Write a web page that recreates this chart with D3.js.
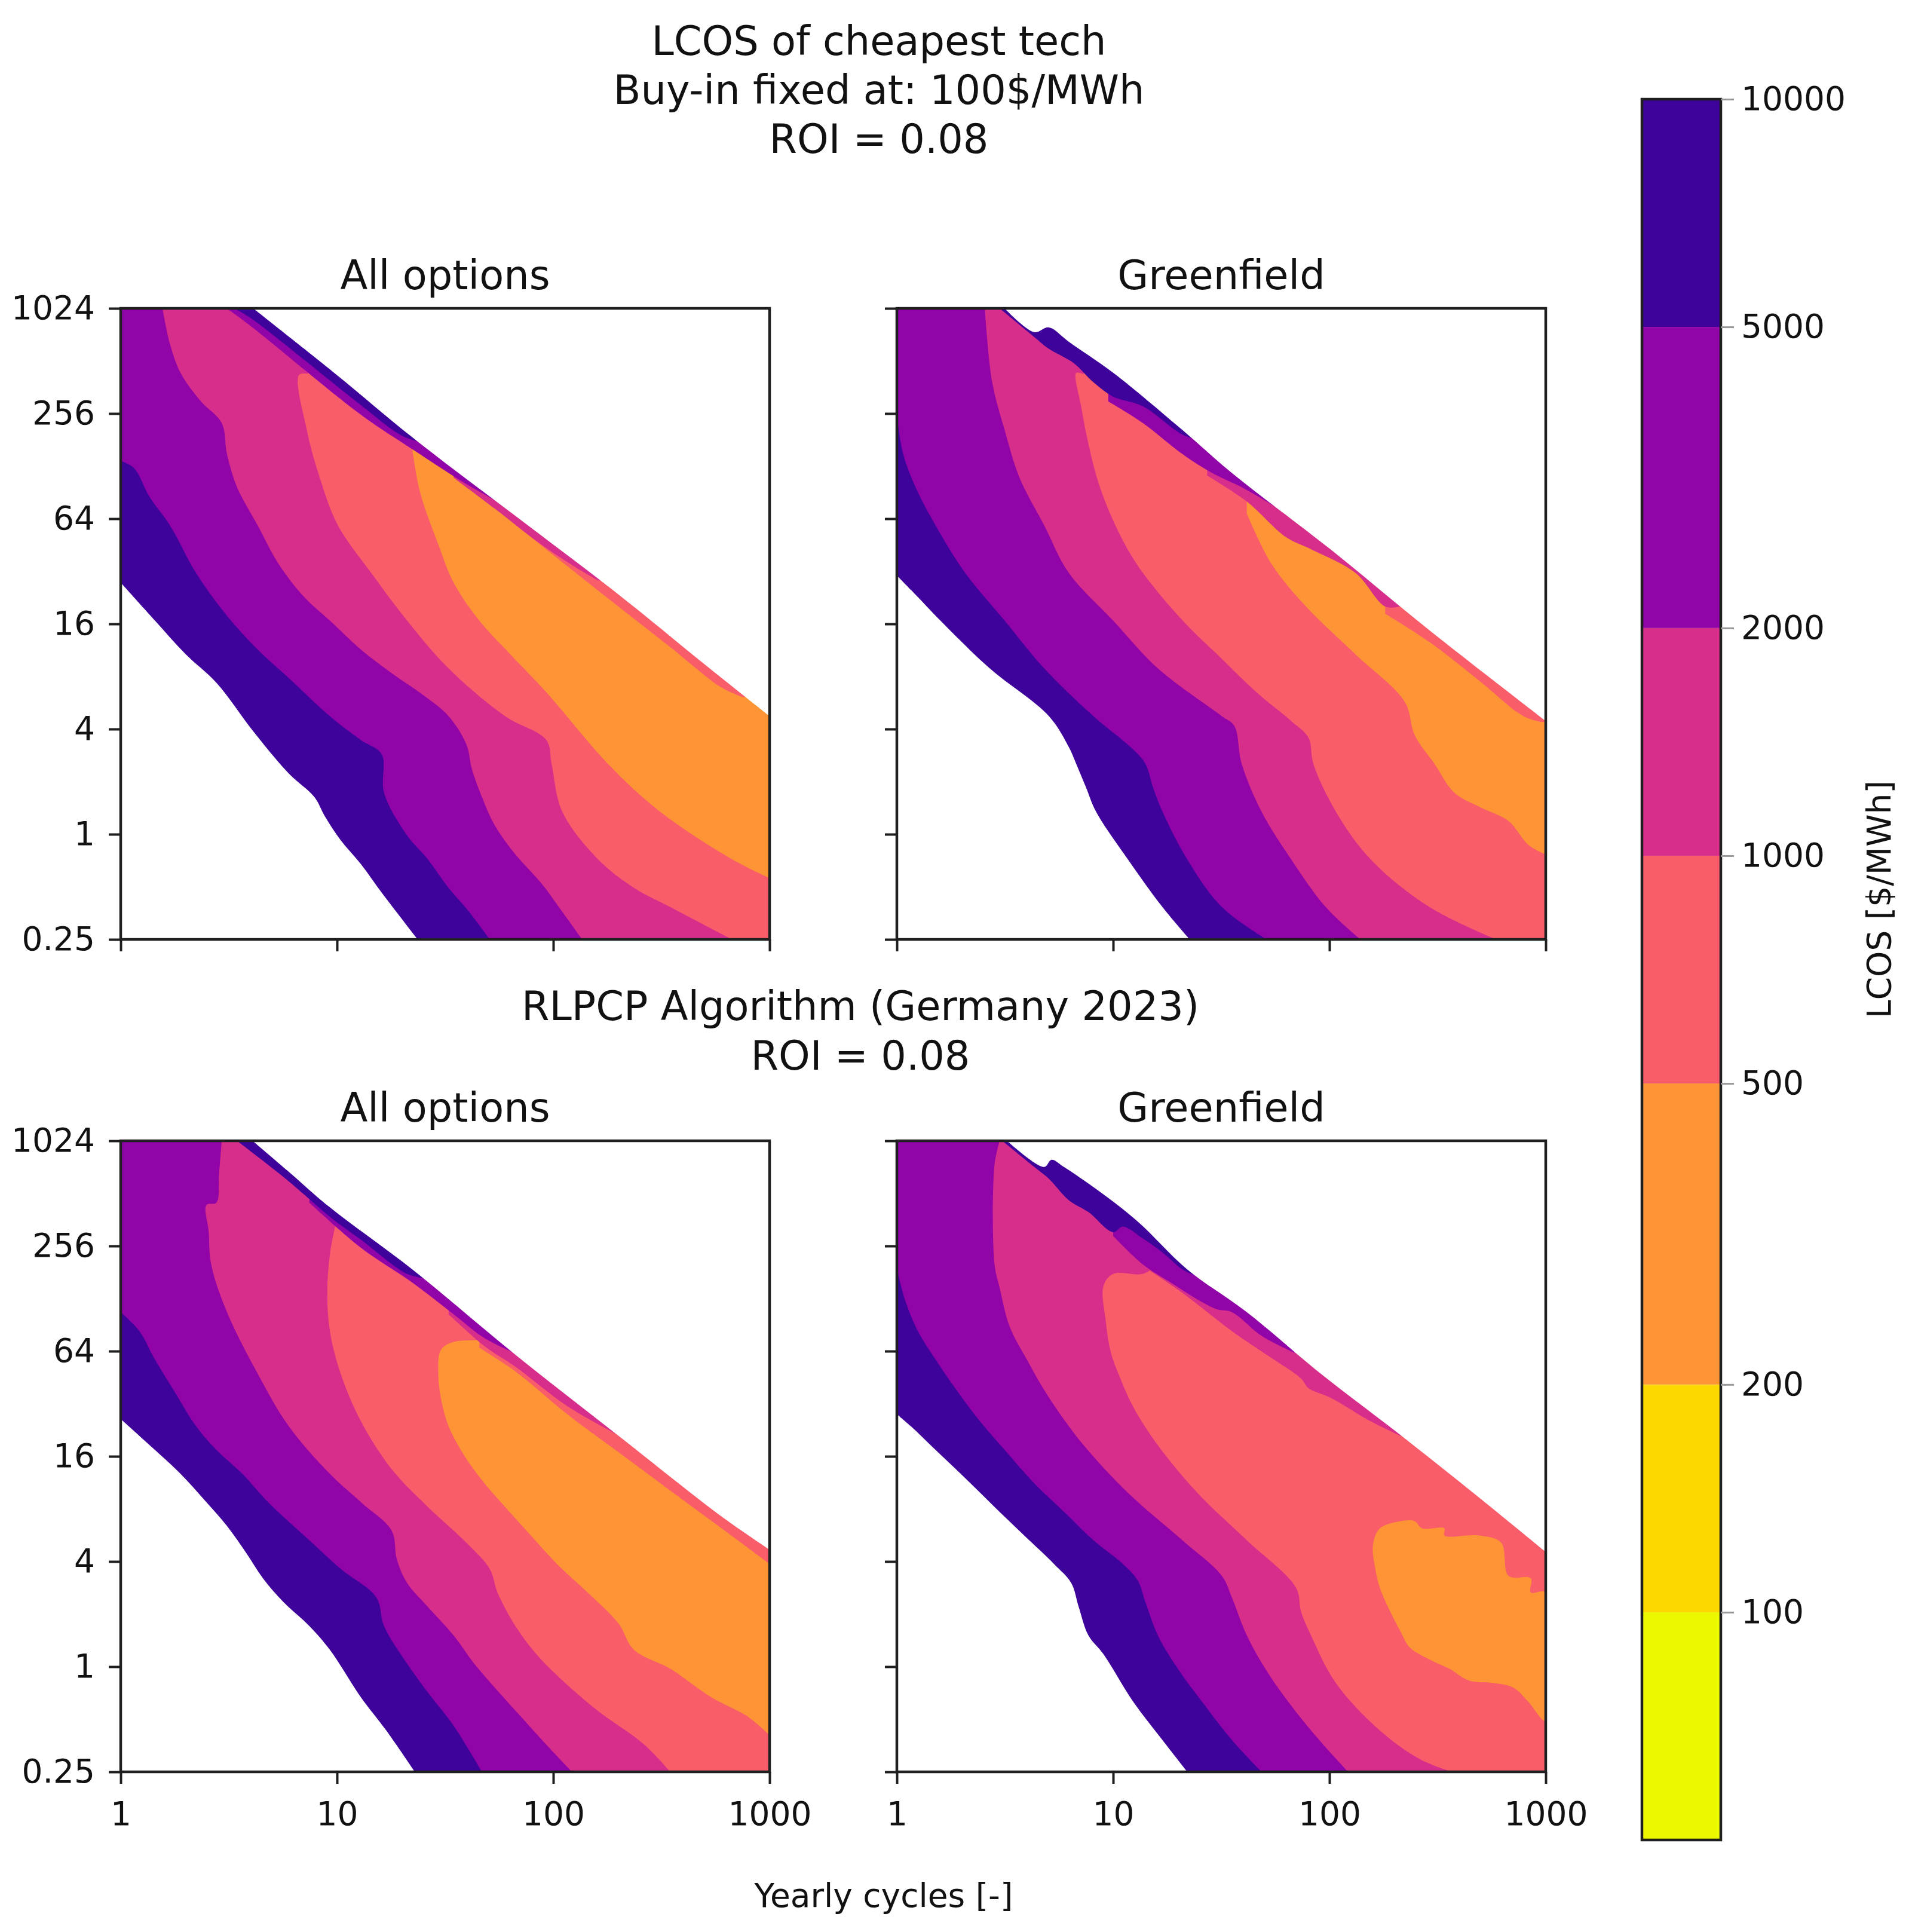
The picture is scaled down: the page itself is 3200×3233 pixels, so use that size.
<!DOCTYPE html>
<html>
<head>
<meta charset="utf-8">
<script src="https://cdn.jsdelivr.net/npm/d3@7"></script>
<style>
  body { margin: 0; background: #fff; }
  svg { display: block; }
  text { font-family: "DejaVu Sans", sans-serif; fill: #111; }
</style>
</head>
<body>
<svg id="chart" width="3200" height="3233"></svg>
<script>
// LCOS band edges [$/MWh] as on the colour bar
const levels = [50, 100, 200, 500, 1000, 2000, 5000, 10000];
const cbTicks = [100, 200, 500, 1000, 2000, 5000, 10000];
const xTicks = [1, 10, 100, 1000];
const yTicks = [0.25, 1, 4, 16, 64, 256, 1024];

// every point is [yearly cycles, duration h]
// edge = last feasible duration (white above), floor = where LCOS passes 10000 (white below)
// isoNNNN = the NNNN contour, rimNNNN = thin band that hugs the edge

// ---- top left: All options, buy-in fixed
const tlEdge = [[4.1,1024],[10,425],[22.3,187],[66.8,66.4],[200,23.6],[500,9.4],[1000,4.74]];
const tlFloor = [[1,27.6],[1.44,16.7],[2.0,10.7],[2.77,7.36],[4.07,3.93],[5.98,2.23],[7.87,1.63],[8.78,1.27],[10.4,0.925],[12.9,0.675],[16.1,0.463],[23.6,0.25]];
const tlIso5000 = [[1,137],[1.15,125],[1.36,85.4],[1.69,58.6],[2.23,31.3],[3.10,17.8],[4.30,11.4],[5.98,7.84],[9.27,4.74],[12.9,3.46],[16.1,2.87],[16.5,1.73],[21.1,0.984],[26.3,0.719],[32.8,0.493],[40.8,0.36],[50.8,0.25]];
const tlIso2000 = [[1.56,1024],[1.69,639],[1.89,438],[2.35,300],[2.93,226],[3.10,150],[3.45,97],[4.30,58.6],[5.36,35.4],[7.05,22.8],[9.27,16.7],[12.9,11.4],[17.9,8.35],[24.9,6.29],[32.8,4.74],[39.7,3.25],[42.0,2.37],[46.8,1.63],[53.7,1.12],[66.8,0.766],[87.9,0.525],[110,0.36],[136,0.25]];
const tlIso1000 = [[7.33,433],[6.67,425],[7.25,206],[8.32,110],[10.1,58.6],[14.4,31.3],[21.1,16.7],[32.8,8.89],[59.9,4.74],[92.9,3.46],[98.2,2.53],[110,1.35],[161,0.719],[236,0.493],[347,0.383],[670,0.25]];
const tlIso500 = [[22.3,160],[24.2,91],[29.4,45.6],[34.6,27.6],[45.5,16.7],[63.3,10.7],[92.9,6.49],[179,2.53],[311,1.35],[670,0.72],[1000,0.56]];
const tlRim500 = [[63.3,62.4],[116,34.3],[200,20.1],[347,11.8],[600,6.91],[748,6.10]];
const tlRim1000 = [[34.6,110],[53.7,73],[87.9,45.6],[129,33.3],[161,28.4]];
const tlRim2000 = [[3.10,1024],[4.07,796],[12.9,252],[22.3,160],[38.6,103],[53.7,81.3],[66.8,68.6]];
const tlRim5000 = [[3.36,1024],[4.07,886],[12.9,286],[20.0,191],[24.9,175]];

// ---- top right: Greenfield, buy-in fixed
const trEdge = [[3.15,1024],[4.32,748],[5.05,796],[6.24,659],[10.0,438],[20.9,206],[35.4,117],[101,42.8],[290,14.7],[1000,4.45]];
const trFloor = [[1,30.3],[1.25,22.8],[1.59,16.7],[2.69,8.89],[5.05,4.74],[6.24,3.15],[6.75,2.53],[7.50,1.85],[8.33,1.35],[11.7,0.719],[16.9,0.383],[22.6,0.25]];
const trIso5000 = [[1,249],[1.07,150],[1.22,97],[1.51,58.6],[2.07,31.3],[3.15,16.7],[4.80,8.89],[8.11,4.74],[12.4,3.05],[14.1,2.53],[15.3,1.85],[16.9,1.35],[22.0,0.719],[31.8,0.383],[51.2,0.25]];
const trIso2000 = [[2.55,1024],[2.76,386],[3.15,206],[3.69,110],[4.80,58.6],[6.24,31.3],[10.0,16.7],[16.1,8.89],[31.8,4.74],[36.3,4.18],[39.3,2.53],[48.5,1.35],[66.5,0.719],[96.1,0.383],[139,0.25]];
const trIso1000 = [[7.31,430],[6.75,438],[7.11,282],[7.69,171],[8.55,103],[10,62.4],[12.4,37.7],[16.1,24.3],[22.0,15.7],[31.8,10.1],[46.0,6.49],[66.5,4.45],[80.0,3.57],[84.3,2.53],[107,1.35],[155,0.719],[290,0.383],[590,0.25]];
const trIso500 = [[41.5,68.6],[53.9,35.4],[78.0,20.1],[132,10.7],[223,5.72],[248,3.69],[306,2.53],[378,1.73],[491,1.44],[673,1.19],[832,0.868],[1000,0.766]];
const trRim500 = [[181,18.3],[290,12.6],[491,7.59],[789,4.74],[948,4.40]];
const trRim1000 = [[27.2,113],[41.5,80.3],[63.1,50.1],[82.2,42.8],[132,31.3],[181,20.1],[212,20.1]];
const trRim2000 = [[9.5,300],[13.7,226],[20.9,150],[28.7,117],[39.3,97],[51.2,80.3],[63.1,68.6]];
const trRim5000 = [[2.99,1024],[4.32,702],[5.05,600],[6.58,497],[8.11,386],[10,320],[13.7,282],[20.9,194],[24.5,182]];

// ---- bottom left: All options, RLPCP
const blEdge = [[4.07,1024],[5.98,681],[9.27,426],[22.3,188],[66.8,61],[200,21],[600,7.24],[1000,4.67]];
const blFloor = [[1,26.2],[1.44,17.4],[1.89,12.7],[2.49,8.74],[3.10,6.39],[3.85,4.38],[4.55,3.20],[5.66,2.34],[7.45,1.71],[9.27,1.25],[12.9,0.668],[16.9,0.431],[22.9,0.25]];
const blIso5000 = [[1,107],[1.22,83.4],[1.44,57.3],[1.79,36.9],[2.23,23.8],[2.77,17.4],[3.65,12.7],[4.80,8.74],[7.45,5.29],[10.4,3.63],[15.2,2.49],[16.5,1.71],[21.1,1.04],[26.3,0.712],[34.6,0.459],[46.8,0.25]];
const blIso2000 = [[2.93,1024],[2.85,660],[2.77,453],[2.49,439],[2.55,311],[2.62,201],[3.10,107],[4.30,47.5],[5.98,23.8],[9.27,12.7],[12.9,8.74],[17.9,6.0],[18.9,4.12],[21.1,3.01],[26.3,2.20],[34.6,1.51],[43.1,1.04],[53.7,0.758],[70.6,0.520],[92.9,0.357],[122,0.25]];
const blIso1000 = [[9.8,331],[9.27,228],[9.02,138],[9.27,83.4],[10.4,47.5],[12.9,25.4],[17.9,13.5],[26.3,8.21],[38.6,5.29],[50.8,3.63],[55.2,2.66],[66.8,1.71],[87.9,1.10],[152,0.590],[264,0.357],[347,0.25]];
const blIso500 = [[50.8,73.6],[34.6,72.3],[30.2,64.9],[29.4,47.5],[30.2,34.7],[32.8,23.8],[38.6,16.3],[48.1,11.2],[59.9,8.21],[78.8,5.63],[104,3.87],[144,2.66],[200,1.77],[236,1.25],[347,0.974],[538,0.668],[789,0.520],[1000,0.405]];
const blRim500 = [[45.5,67],[66.8,49],[116,27.9],[200,16.9],[347,10.2],[600,6.19],[1000,3.87]];
const blRim1000 = [[32.8,104],[48.1,68.3],[66.8,52.1],[116,31],[211,20.4]];
const blRim2000 = [[7.45,453],[12.9,250],[22.3,158],[34.6,104],[48.1,75.9],[70.6,60.2]];
const blRim5000 = [[3.45,1024],[4.07,875],[5.98,601],[9.27,376],[12.9,278],[21.1,177],[26.3,166]];

// ---- bottom right: Greenfield, RLPCP
const brEdge = [[3.23,1024],[4.80,725],[5.19,797],[5.92,725],[8.55,530],[13.0,353],[22.0,188],[41.5,107],[91.2,47.5],[201,22.4],[491,9.31],[1000,4.53]];
const brFloor = [[1,27.9],[1.16,23.8],[1.51,17.4],[2.07,12.0],[2.83,8.21],[3.88,5.63],[5.33,3.87],[6.40,3.01],[6.93,2.20],[7.69,1.51],[9.02,1.18],[12.4,0.628],[16.9,0.380],[22.0,0.25]];
const brIso5000 = [[1,188],[1.10,122],[1.25,83.4],[1.51,57.3],[1.86,39.3],[2.42,25.4],[3.15,17.4],[4.32,11.2],[5.92,7.71],[8.11,5.29],[11.1,3.87],[13.0,3.11],[14.1,2.34],[16.1,1.51],[19.9,0.974],[25.8,0.628],[35.4,0.380],[48.5,0.25]];
const brIso2000 = [[2.99,1024],[2.83,749],[2.83,201],[2.99,147],[3.32,88.8],[3.99,57.3],[5.05,34.7],[7.31,18.5],[11.7,9.9],[20.9,5.29],[31.8,3.31],[35.4,2.49],[41.5,1.51],[53.9,0.859],[82.2,0.431],[122,0.25]];
const brIso1000 = [[15.7,195],[13.7,177],[10.0,177],[9.02,151],[9.25,94.6],[9.75,63.1],[10.8,44.6],[12.4,30.6],[16.1,18.5],[24.5,9.9],[41.5,5.29],[70.1,2.83],[73.9,2.07],[82.2,1.51],[107,0.807],[171,0.431],[261,0.296],[368,0.25]];
// closed island of the 200-500 band
const brIsle500 = [[159,4.97],[171,6.19],[212,6.80],[248,6.80],[268,6.19],[340,6.19],[340,5.63],[491,5.63],[622,5.13],[673,3.31],[853,3.20],[853,2.66],[1000,2.66],[1000,0.489],[832,0.628],[710,0.758],[575,0.807],[442,0.833],[358,0.974],[290,1.10],[235,1.29],[212,1.61],[191,2.07],[171,2.83],[163,3.63]];
const brRim1000 = [[14.5,188],[20.9,138],[35.4,83.4],[51.2,61],[73.9,44.6],[80.0,39.3],[101,34.7],[155,25.4],[212,21.0]];
const brRim2000 = [[10.0,292],[13.7,201],[18.8,156],[25.8,122],[30.2,111],[35.4,107],[48.5,78.4],[68.4,62.9]];
const brRim5000 = [[3.07,1024],[4.32,725],[5.05,620],[6.24,468],[7.69,400],[10.0,307],[11.1,331],[13.7,283],[16.9,235],[20.9,188],[24.5,172]];

// colour of the band that starts at each level
const bandColor = {50: "#ecf800", 100: "#fdd800", 200: "#fd9536", 500: "#f95d6a", 1000: "#d62e8a", 2000: "#9004a8", 5000: "#3d039b"};
const ink = "#1f1f1f";

const panels = [
  {title: "All options", x0: 202, y0: 516, xLabels: false, yLabels: true, edge: tlEdge, floor: tlFloor,
   fills: [[2000, tlIso5000], [1000, tlIso2000], [500, tlIso1000], [200, tlIso500]], isles: [],
   rims: [[500, tlRim500], [1000, tlRim1000], [2000, tlRim2000], [5000, tlRim5000]]},
  {title: "Greenfield", x0: 1501, y0: 516, xLabels: false, yLabels: false, edge: trEdge, floor: trFloor,
   fills: [[2000, trIso5000], [1000, trIso2000], [500, trIso1000], [200, trIso500]], isles: [],
   rims: [[500, trRim500], [1000, trRim1000], [2000, trRim2000], [5000, trRim5000]]},
  {title: "All options", x0: 202, y0: 1909, xLabels: true, yLabels: true, edge: blEdge, floor: blFloor,
   fills: [[2000, blIso5000], [1000, blIso2000], [500, blIso1000], [200, blIso500]], isles: [],
   rims: [[500, blRim500], [1000, blRim1000], [2000, blRim2000], [5000, blRim5000]]},
  {title: "Greenfield", x0: 1501, y0: 1909, xLabels: true, yLabels: false, edge: brEdge, floor: brFloor,
   fills: [[2000, brIso5000], [1000, brIso2000], [500, brIso1000]], isles: [[200, brIsle500]],
   rims: [[1000, brRim1000], [2000, brRim2000], [5000, brRim5000]]}
];
const panelW = 1086, panelH = 1056;
const FAR = 1e6, NEAR = 1e-6;
const tickFont = 55, titleFont = 67;

const svg = d3.select("#chart");
svg.append("rect").attr("width", 3200).attr("height", 3233).attr("fill", "#fff");

function styleAxis(g, size) {
  g.attr("font-family", '"DejaVu Sans", sans-serif').attr("font-size", size);
  g.select(".domain").remove();
  g.selectAll(".tick line").attr("stroke", ink).attr("stroke-width", 4);
  g.selectAll(".tick text").attr("fill", "#111");
}

panels.forEach((p, i) => {
  const x = d3.scaleLog().domain([1, 1000]).range([p.x0, p.x0 + panelW]);
  const y = d3.scaleLog().base(2).domain([0.25, 1024]).range([p.y0 + panelH, p.y0]);
  const contour = d3.line().x(d => x(d[0])).y(d => y(d[1])).curve(d3.curveCatmullRom.alpha(0.5));
  const ring = d3.line().x(d => x(d[0])).y(d => y(d[1])).curve(d3.curveCatmullRomClosed.alpha(0.5));
  const straight = pts => pts.map(d => `L${x(d[0])},${y(d[1])}`).join("");
  // area up and to the right of a contour
  const above = pts => contour(pts) + straight([[FAR, pts[pts.length - 1][1]], [FAR, FAR], [pts[0][0], FAR]]) + "Z";
  // area down and to the left of a contour
  const below = pts => contour(pts) + straight([[pts[pts.length - 1][0], NEAR], [NEAR, NEAR], [NEAR, pts[0][1]]]) + "Z";

  svg.append("clipPath").attr("id", "clip" + i)
    .append("rect").attr("x", p.x0).attr("y", p.y0).attr("width", panelW).attr("height", panelH);
  const g = svg.append("g").attr("clip-path", `url(#clip${i})`);

  // bands painted from the dear lower left towards the cheap upper right
  g.append("rect").attr("x", p.x0).attr("y", p.y0).attr("width", panelW).attr("height", panelH)
    .attr("fill", bandColor[5000]);
  p.fills.forEach(([band, pts]) => {
    g.append("path").attr("d", above(pts)).attr("fill", bandColor[band]);
  });
  p.isles.forEach(([band, pts]) => {
    g.append("path").attr("d", ring(pts)).attr("fill", bandColor[band]);
  });
  p.rims.forEach(([band, pts]) => {
    g.append("path").attr("d", above(pts)).attr("fill", bandColor[band]);
  });
  g.append("path").attr("d", above(p.edge)).attr("fill", "#fff");
  g.append("path").attr("d", below(p.floor)).attr("fill", "#fff");

  const xAxis = d3.axisBottom(x).tickValues(xTicks).tickSize(20).tickPadding(30)
    .tickFormat(p.xLabels ? d3.format("~g") : "");
  svg.append("g").attr("transform", `translate(0,${p.y0 + panelH})`).call(xAxis).call(g => styleAxis(g, tickFont));
  const yAxis = d3.axisLeft(y).tickValues(yTicks).tickSize(20).tickPadding(23)
    .tickFormat(p.yLabels ? d3.format("~g") : "");
  svg.append("g").attr("transform", `translate(${p.x0},0)`).call(yAxis).call(g => styleAxis(g, tickFont));

  svg.append("rect").attr("x", p.x0).attr("y", p.y0).attr("width", panelW).attr("height", panelH)
    .attr("fill", "none").attr("stroke", ink).attr("stroke-width", 4.5);

  svg.append("text").attr("x", p.x0 + panelW / 2).attr("y", p.y0 - 32)
    .attr("text-anchor", "middle").attr("font-size", titleFont).text(p.title);
});

// figure titles
const supLines = ["LCOS of cheapest tech", "Buy-in fixed at: 100$/MWh", "ROI = 0.08"];
supLines.forEach((t, k) => {
  svg.append("text").attr("x", 1471).attr("y", 92 + k * 82)
    .attr("text-anchor", "middle").attr("font-size", titleFont).text(t);
});
const midLines = ["RLPCP Algorithm (Germany 2023)", "ROI = 0.08"];
midLines.forEach((t, k) => {
  svg.append("text").attr("x", 1440).attr("y", 1707 + k * 83)
    .attr("text-anchor", "middle").attr("font-size", titleFont).text(t);
});
svg.append("text").attr("x", 1479).attr("y", 3191)
  .attr("text-anchor", "middle").attr("font-size", tickFont).text("Yearly cycles [-]");

// colour bar
const cbX = 2748, cbW = 132;
const cb = d3.scaleLog().domain([50, 10000]).range([3079, 166]);
levels.slice(0, -1).forEach((lo, k) => {
  svg.append("rect").attr("x", cbX).attr("width", cbW)
    .attr("y", cb(levels[k + 1])).attr("height", cb(lo) - cb(levels[k + 1]))
    .attr("fill", bandColor[lo]);
});
svg.append("rect").attr("x", cbX).attr("y", cb(10000)).attr("width", cbW).attr("height", cb(50) - cb(10000))
  .attr("fill", "none").attr("stroke", ink).attr("stroke-width", 4.5);
const cbAxis = d3.axisRight(cb).tickValues(cbTicks).tickSize(22).tickPadding(12).tickFormat(d3.format("~g"));
svg.append("g").attr("transform", `translate(${cbX + cbW},0)`).call(cbAxis).call(g => {
  styleAxis(g, tickFont);
  g.selectAll(".tick line").attr("stroke", "#999").attr("stroke-width", 3);
});
svg.append("text").attr("transform", "translate(3145,1505) rotate(-90)")
  .attr("text-anchor", "middle").attr("dominant-baseline", "central")
  .attr("font-size", tickFont).text("LCOS [$/MWh]");
</script>
</body>
</html>
